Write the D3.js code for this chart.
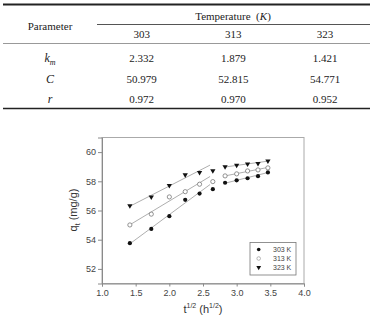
<!DOCTYPE html>
<html><head><meta charset="utf-8">
<script src="https://cdn.jsdelivr.net/npm/d3@7"></script>
<style>body{margin:0;background:#fff}svg{display:block}.tbl text{font-family:"Liberation Serif","DejaVu Serif","Times New Roman",Times,serif}</style>
</head><body>
<svg id="c" width="372" height="317"></svg>
<script>
// ---- table data ----
const tableTemps = ["303", "313", "323"];
const tableParams = ["k", "C", "r"];
const kmValues = ["2.332", "1.879", "1.421"];
const cValues = ["50.979", "52.815", "54.771"];
const rValues = ["0.972", "0.970", "0.952"];

// ---- chart data ----
const tSqrt = [1.414, 1.732, 2.0, 2.236, 2.449, 2.646, 2.828, 3.0, 3.162, 3.317, 3.464];
const q303 = [53.76, 54.74, 55.61, 56.73, 57.16, 57.46, 57.90, 58.07, 58.21, 58.35, 58.61];
const q313 = [55.01, 55.75, 56.93, 57.29, 57.80, 57.98, 58.37, 58.51, 58.71, 58.78, 58.92];
const q323 = [56.32, 56.93, 57.71, 58.44, 58.60, 58.72, 59.00, 59.10, 59.18, 59.22, 59.39];
// fitted line segments [x, y]
const fit303 = [[[1.414, 53.72], [2.605, 57.78]], [[2.828, 57.87], [3.464, 58.60]]];
const fit313 = [[[1.414, 55.02], [2.605, 58.33]], [[2.828, 58.37], [3.464, 58.95]]];
const fit323 = [[[1.414, 56.29], [2.605, 59.11]], [[2.828, 58.98], [3.464, 59.38]]];
const xTicks = [1.0, 1.5, 2.0, 2.5, 3.0, 3.5, 4.0];
const yTicks = [52, 54, 56, 58, 60];
const legendLabels = ["303 K", "313 K", "323 K"];

const svg = d3.select("#c");
const sans = "'Liberation Sans',Arial,sans-serif";

// ---- table ----
const tg = svg.append("g").attr("class", "tbl").attr("font-size", 11).attr("fill", "#222");
tg.append("line").attr("x1", 3).attr("x2", 370).attr("y1", 4.5).attr("y2", 4.5).attr("stroke", "#222").attr("stroke-width", 2);
tg.append("line").attr("x1", 97).attr("x2", 370).attr("y1", 24.5).attr("y2", 24.5).attr("stroke", "#555").attr("stroke-width", 1);
tg.append("line").attr("x1", 3).attr("x2", 370).attr("y1", 43.5).attr("y2", 43.5).attr("stroke", "#999").attr("stroke-width", 1);
tg.append("line").attr("x1", 3).attr("x2", 370).attr("y1", 108.5).attr("y2", 108.5).attr("stroke", "#222").attr("stroke-width", 1.5);
tg.append("text").attr("x", 50).attr("y", 30).attr("text-anchor", "middle").text("Parameter");
const th = tg.append("text").attr("x", 233).attr("y", 19.5).attr("text-anchor", "middle");
th.append("tspan").text("Temperature\u00a0\u00a0(");
th.append("tspan").attr("font-style", "italic").text("K");
th.append("tspan").text(")");
const colX = d3.scalePoint().domain(tableTemps).range([141.7, 325]);
tg.selectAll("text.hd").data(tableTemps).join("text").attr("class", "hd")
  .attr("x", d => colX(d)).attr("y", 38).attr("text-anchor", "middle").text(d => d);
const rowY = d3.scalePoint().domain(tableParams).range([62, 103]);
const km = tg.append("text").attr("x", 50).attr("y", rowY("k")).attr("text-anchor", "middle").attr("font-style", "italic");
km.append("tspan").attr("font-size", 12).text(tableParams[0]);
km.append("tspan").attr("font-size", 8).attr("dy", 3).text("m");
tg.append("text").attr("x", 50).attr("y", rowY("C")).attr("text-anchor", "middle").attr("font-style", "italic").attr("font-size", 12).text(tableParams[1]);
tg.append("text").attr("x", 50).attr("y", rowY("r")).attr("text-anchor", "middle").attr("font-style", "italic").attr("font-size", 12).text(tableParams[2]);
[[kmValues, "k"], [cValues, "C"], [rValues, "r"]].forEach(([vals, p]) => {
  tg.selectAll(null).data(vals).join("text")
    .attr("x", (d, i) => colX(tableTemps[i])).attr("y", rowY(p)).attr("text-anchor", "middle").text(d => d);
});

// ---- chart ----
const x = d3.scaleLinear().domain([1, 4]).range([102, 304]);
const y = d3.scaleLinear().domain([51, 61]).range([283.5, 137.5]);
const axisColor = "#8a8a8a";
const cg = svg.append("g").attr("font-family", sans);

cg.append("rect").attr("x", x(1)).attr("y", y(61)).attr("width", x(4) - x(1)).attr("height", y(51) - y(61))
  .attr("fill", "none").attr("stroke", "#aaa").attr("stroke-width", 1);

const xa = cg.append("g").attr("transform", `translate(0,${y(51)})`)
  .call(d3.axisBottom(x).tickValues(xTicks).tickFormat(d3.format(".1f")).tickSize(3).tickPadding(3));
const ya = cg.append("g").attr("transform", `translate(${x(1)},0)`)
  .call(d3.axisLeft(y).tickValues(yTicks).tickSize(4).tickPadding(2));
[xa, ya].forEach(a => {
  a.select(".domain").attr("stroke", axisColor);
  a.selectAll(".tick line").attr("stroke", axisColor);
  a.selectAll(".tick text").attr("fill", "#444").attr("font-size", 9).attr("font-family", sans);
});

const xt = cg.append("text").attr("x", 203).attr("y", 313).attr("text-anchor", "middle").attr("font-size", 11).attr("fill", "#333");
xt.append("tspan").text("t");
xt.append("tspan").attr("font-size", 7).attr("dy", -5).text("1/2");
xt.append("tspan").attr("dy", 5).text(" (h");
xt.append("tspan").attr("font-size", 7).attr("dy", -5).text("1/2");
xt.append("tspan").attr("dy", 5).text(")");
const yt = cg.append("text").attr("transform", "translate(77,210) rotate(-90)").attr("text-anchor", "middle").attr("font-size", 11).attr("fill", "#333");
yt.append("tspan").text("q");
yt.append("tspan").attr("font-size", 7).attr("dy", 3).text("t");
yt.append("tspan").attr("dy", -3).text(" (mg/g)");

const line = d3.line().x(d => x(d[0])).y(d => y(d[1]));
[fit303, fit313, fit323].forEach(f => f.forEach(seg => {
  cg.append("path").attr("d", line(seg)).attr("fill", "none").attr("stroke", "#999").attr("stroke-width", 0.8);
}));

const tri = d3.symbol().type(d3.symbolTriangle).size(12);
function drawSeries(vals, kind) {
  const pts = vals.map((v, i) => [tSqrt[i], v]);
  if (kind === "tri") {
    cg.selectAll(null).data(pts).join("path").attr("d", tri)
      .attr("transform", d => `translate(${x(d[0])},${y(d[1])}) rotate(180)`).attr("fill", "#111");
  } else {
    cg.selectAll(null).data(pts).join("circle").attr("cx", d => x(d[0])).attr("cy", d => y(d[1])).attr("r", 2.1)
      .attr("fill", kind === "filled" ? "#111" : "#fff").attr("stroke", kind === "filled" ? "none" : "#777").attr("stroke-width", 0.8);
  }
}
drawSeries(q303, "filled");
drawSeries(q313, "open");
drawSeries(q323, "tri");

const lg = cg.append("g");
lg.append("rect").attr("x", 250).attr("y", 242.5).attr("width", 46).attr("height", 32.5).attr("fill", "#fff").attr("stroke", "#777").attr("stroke-width", 0.8);
const ly = d3.scalePoint().domain(legendLabels).range([249.5, 267.5]);
lg.append("circle").attr("cx", 258.7).attr("cy", ly(legendLabels[0])).attr("r", 1.8).attr("fill", "#111");
lg.append("circle").attr("cx", 258.7).attr("cy", ly(legendLabels[1])).attr("r", 1.8).attr("fill", "#fff").attr("stroke", "#999").attr("stroke-width", 0.7);
lg.append("path").attr("d", d3.symbol().type(d3.symbolTriangle).size(10)).attr("transform", `translate(258.7,${ly(legendLabels[2])}) rotate(180)`).attr("fill", "#111");
lg.selectAll("text").data(legendLabels).join("text").attr("x", 273).attr("y", d => ly(d) + 2.5)
  .attr("font-size", 7).attr("fill", "#444").text(d => d);
</script>
</body></html>
